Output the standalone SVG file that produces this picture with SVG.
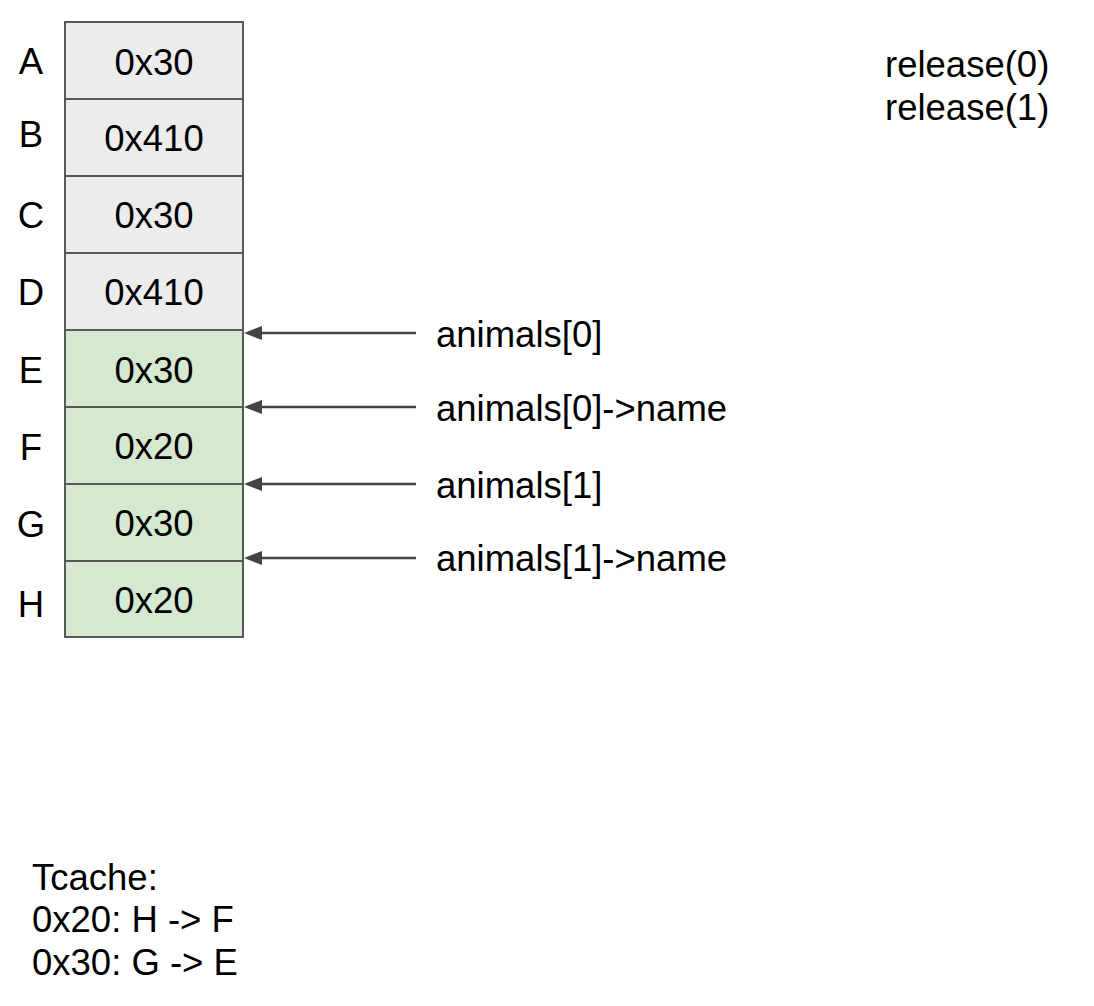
<svg xmlns="http://www.w3.org/2000/svg" width="1094" height="1006" viewBox="0 0 1094 1006">
<defs>
<style>
text{font-family:"Liberation Sans",Arial,sans-serif;font-size:36.5px;fill:#000}
.c{text-anchor:middle}
.g{fill:#ececec;stroke:#595959;stroke-width:2}
.v{fill:#d5e8d0;stroke:#595959;stroke-width:2}
.a{stroke:#434343;stroke-width:2.5;fill:none}
.h{fill:#434343}
</style>
</defs>
<rect width="1094" height="1006" fill="#fff"/>
<g id="A"><rect class="g" x="65" y="22" width="178" height="77"/><text class="c" x="154" y="75">0x30</text><text class="c" x="31" y="74">A</text></g>
<g id="B"><rect class="g" x="65" y="99" width="178" height="77"/><text class="c" x="154" y="151">0x410</text><text class="c" x="31" y="147">B</text></g>
<g id="C"><rect class="g" x="65" y="176" width="178" height="77"/><text class="c" x="154" y="228">0x30</text><text class="c" x="31" y="228">C</text></g>
<g id="D"><rect class="g" x="65" y="253" width="178" height="77"/><text class="c" x="154" y="305">0x410</text><text class="c" x="31" y="305">D</text></g>
<g id="E"><rect class="v" x="65" y="330" width="178" height="77"/><text class="c" x="154" y="383">0x30</text><text class="c" x="31" y="383">E</text></g>
<g id="F"><rect class="v" x="65" y="407" width="178" height="77"/><text class="c" x="154" y="459">0x20</text><text class="c" x="31" y="460">F</text></g>
<g id="G"><rect class="v" x="65" y="484" width="178" height="77"/><text class="c" x="154" y="536">0x30</text><text class="c" x="31" y="537">G</text></g>
<g id="H"><rect class="v" x="65" y="561" width="178" height="76"/><text class="c" x="154" y="613">0x20</text><text class="c" x="31" y="617">H</text></g>
<g id="connectors">
<line class="a" x1="416" y1="333" x2="256" y2="333"/><path class="h" d="M244,333 L262,326 L262,340 z"/>
<line class="a" x1="416" y1="407" x2="256" y2="407"/><path class="h" d="M244,407 L262,400 L262,414 z"/>
<line class="a" x1="416" y1="484" x2="256" y2="484"/><path class="h" d="M244,484 L262,477 L262,491 z"/>
<line class="a" x1="416" y1="558" x2="256" y2="558"/><path class="h" d="M244,558 L262,551 L262,565 z"/>
</g>
<g id="labels">
<text x="436" y="347">animals[0]</text>
<text x="436" y="421">animals[0]-&gt;name</text>
<text x="436" y="498">animals[1]</text>
<text x="436" y="571">animals[1]-&gt;name</text>
</g>
<g id="release">
<text x="885" y="77">release(0)</text>
<text x="885" y="120">release(1)</text>
</g>
<g id="tcache">
<text x="32" y="890">Tcache:</text>
<text x="32" y="932">0x20: H -&gt; F</text>
<text x="32" y="975">0x30: G -&gt; E</text>
</g>
</svg>
